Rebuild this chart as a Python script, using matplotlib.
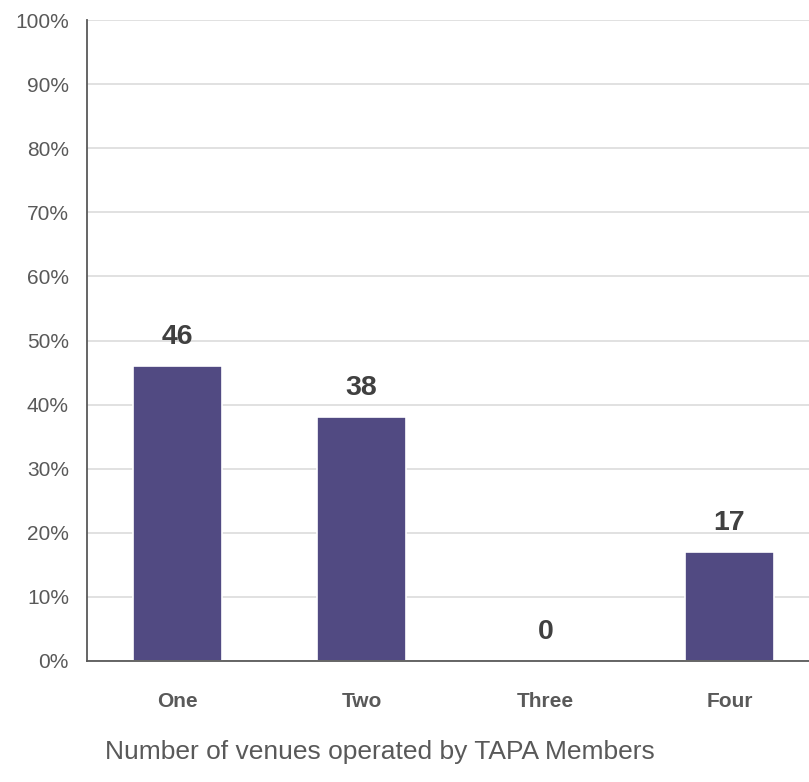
import numpy as np
import matplotlib
matplotlib.use("Agg")
import matplotlib.pyplot as plt
from matplotlib.ticker import PercentFormatter

plt.rcParams['font.family'] = ['Liberation Sans', 'DejaVu Sans']

categories = ["One", "Two", "Three", "Four"]
values = [46, 38, 0, 17]
yticks = list(range(0, 101, 10))

bar_color = "#514a82"
grid_color = "#d9d9d9"
axis_color = "#595959"

fig = plt.figure(figsize=(8.09, 7.82), dpi=100)
ax = fig.add_axes([87 / 809, 1 - 661 / 782, 1 - 87 / 809, (661 - 20) / 782])

x = np.arange(len(categories))
ax.bar(x, values, width=0.485, color=bar_color, edgecolor="white",
       linewidth=1.2, zorder=2)

# value labels above each bar
for xi, v in zip(x, values):
    ax.annotate(f"{v}", (xi, v), xytext=(0, 16), textcoords="offset points",
                ha="center", va="baseline", fontsize=20.5, fontweight="bold",
                color="#404040")

ax.set_ylim(0, 100)
ax.set_xlim(-0.493, 3.432)
ax.set_yticks(yticks)
ax.yaxis.set_major_formatter(PercentFormatter(decimals=0))
ax.set_xticks(x)
ax.set_xticklabels(categories, fontsize=15, fontweight="bold", color=axis_color)
ax.tick_params(axis="y", length=0, pad=13, labelsize=15, labelcolor=axis_color)
ax.tick_params(axis="x", length=0, pad=22)

ax.grid(axis="y", color=grid_color, linewidth=1.1, zorder=0)
ax.set_axisbelow(True)
for s in ["top", "right"]:
    ax.spines[s].set_visible(False)
for s in ["left", "bottom"]:
    ax.spines[s].set_color(axis_color)
    ax.spines[s].set_linewidth(1.3)
    ax.spines[s].set_zorder(3)

fig.text(380 / 809, 1 - 752 / 782, "Number of venues operated by TAPA Members",
         ha="center", va="center", fontsize=19, color=axis_color)

fig.savefig("out.png", dpi=100)
